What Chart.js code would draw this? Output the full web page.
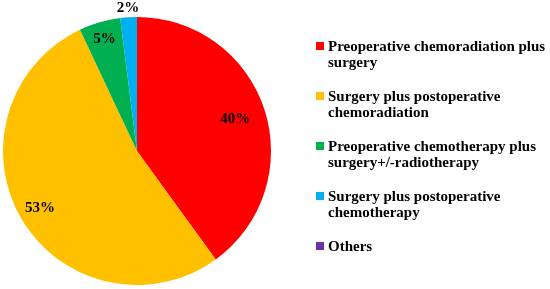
<!DOCTYPE html>
<html>
<head>
<meta charset="utf-8">
<script src="https://cdn.jsdelivr.net/npm/chart.js@4"></script>
<style>
  body { margin: 0; background: #fff; }
  #wrap { position: relative; width: 550px; height: 289px; }
  #legend { position: absolute; left: 316px; top: 38px; font-family: "Liberation Serif", serif; font-weight: bold; font-size: 15px; color: #000; white-space: nowrap; }
  .item { position: relative; padding-left: 12px; line-height: 16px; margin-bottom: 18px; }
  .box { position: absolute; left: 0; top: 4px; width: 8px; height: 8px; }
</style>
</head>
<body>
<div id="wrap">
  <canvas id="pie" width="550" height="289"></canvas>
  <div id="legend"></div>
</div>
<script>
var categories = [
    ["Preoperative chemoradiation plus", "surgery"],
    ["Surgery plus postoperative", "chemoradiation"],
    ["Preoperative chemotherapy plus", "surgery+/-radiotherapy"],
    ["Surgery plus postoperative", "chemotherapy"],
    ["Others"]
];
var values = [40, 53, 5, 2, 0];
var colors = ["#FF0000", "#FFC000", "#00B050", "#00B0F0", "#7030A0"];

// where each % label sits, as a fraction of the radius
var labelRadius = [0.77, 0.84, 0.87, 1.07, 0.8];

var pctLabels = {
    id: 'pctLabels',
    afterDatasetsDraw: function (chart) {
        var ctx = chart.ctx;
        var meta = chart.getDatasetMeta(0);
        ctx.save();
        ctx.font = "bold 15px 'Liberation Serif'";
        ctx.fillStyle = "#000";
        ctx.textAlign = "center";
        ctx.textBaseline = "middle";
        meta.data.forEach(function (arc, i) {
            if (!values[i]) return;
            var mid = (arc.startAngle + arc.endAngle) / 2;
            var r = arc.outerRadius * labelRadius[i];
            ctx.fillText(values[i] + "%", arc.x + Math.cos(mid) * r, arc.y + Math.sin(mid) * r);
        });
        ctx.restore();
    }
};

new Chart(document.getElementById("pie"), {
    type: 'pie',
    data: {
        labels: categories.map(function (c) { return c.join(" "); }),
        datasets: [{
            data: values,
            backgroundColor: colors,
            borderWidth: 0
        }]
    },
    options: {
        responsive: false,
        animation: false,
        layout: { padding: { left: 3, right: 279, top: 17, bottom: 4 } },
        plugins: {
            legend: { display: false },
            tooltip: { enabled: false }
        }
    },
    plugins: [pctLabels]
});

var legend = document.getElementById("legend");
categories.forEach(function (lines, i) {
    var item = document.createElement("div");
    item.className = "item";
    var box = document.createElement("span");
    box.className = "box";
    box.style.background = colors[i];
    item.appendChild(box);
    lines.forEach(function (t, j) {
        if (j) item.appendChild(document.createElement("br"));
        item.appendChild(document.createTextNode(t));
    });
    legend.appendChild(item);
});
</script>
</body>
</html>
